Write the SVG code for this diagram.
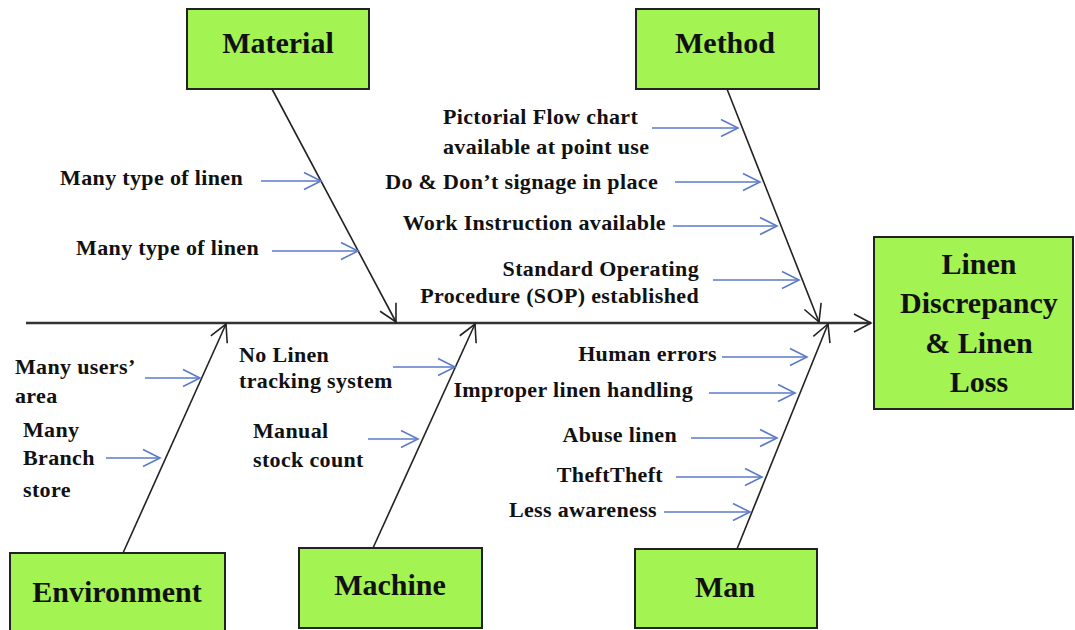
<svg xmlns="http://www.w3.org/2000/svg" width="1075" height="630" viewBox="0 0 1075 630">
  <style>
    .box { fill: #a3f353; stroke: #222; stroke-width: 2; }
    .title { font-family: "Liberation Serif", "Times New Roman", serif; font-weight: bold; font-size: 30px; fill: #111; text-anchor: middle; }
    .lbl { font-family: "Liberation Serif", "Times New Roman", serif; font-weight: bold; font-size: 22px; letter-spacing: 0.35px; fill: #111; }
    .end { text-anchor: end; }
    .bone { stroke: #222; stroke-width: 1.6; fill: none; marker-end: url(#headK); }
    .spine { stroke: #333; stroke-width: 2.6; fill: none; marker-end: url(#headK); }
    .cause { stroke: #5b7bc9; stroke-width: 1.6; fill: none; marker-end: url(#headB); }
  </style>
  <defs>
    <marker id="headK" markerUnits="userSpaceOnUse" markerWidth="20" markerHeight="20" refX="17" refY="9" orient="auto" overflow="visible">
      <path d="M0,0 L17,9 L0,18" fill="none" stroke="#222" stroke-width="1.6"/>
    </marker>
    <marker id="headB" markerUnits="userSpaceOnUse" markerWidth="20" markerHeight="20" refX="17" refY="8.5" orient="auto" overflow="visible">
      <path d="M0,0 L17,8.5 L0,17" fill="none" stroke="#5b7bc9" stroke-width="1.6"/>
    </marker>
  </defs>

  <rect width="1075" height="630" fill="#fff"/>

  <!-- spine, category bones and cause arrows -->
  <g id="connectors">
    <line class="spine" x1="26" y1="323" x2="871" y2="323"/>

    <line class="bone" x1="272" y1="89" x2="396" y2="322"/>
    <line class="bone" x1="727" y1="89" x2="819" y2="322"/>
    <line class="bone" x1="123" y1="553" x2="226" y2="324"/>
    <line class="bone" x1="373" y1="548" x2="475" y2="324"/>
    <line class="bone" x1="737" y1="549" x2="828" y2="324"/>

    <!-- Material causes -->
    <line class="cause" x1="261" y1="181" x2="321" y2="181"/>
    <line class="cause" x1="272" y1="251" x2="358" y2="251"/>
    <!-- Method causes -->
    <line class="cause" x1="652" y1="128" x2="738" y2="128"/>
    <line class="cause" x1="675" y1="182" x2="760" y2="182"/>
    <line class="cause" x1="673" y1="226" x2="777" y2="226"/>
    <line class="cause" x1="713" y1="280" x2="799" y2="280"/>
    <!-- Environment causes -->
    <line class="cause" x1="145" y1="378" x2="200" y2="378"/>
    <line class="cause" x1="106" y1="458" x2="160" y2="458"/>
    <!-- Machine causes -->
    <line class="cause" x1="393" y1="367" x2="455" y2="367"/>
    <line class="cause" x1="368" y1="439" x2="418" y2="439"/>
    <!-- Man causes -->
    <line class="cause" x1="722" y1="357" x2="807" y2="357"/>
    <line class="cause" x1="709" y1="393" x2="795" y2="393"/>
    <line class="cause" x1="691" y1="438" x2="777" y2="438"/>
    <line class="cause" x1="676" y1="477" x2="762" y2="477"/>
    <line class="cause" x1="664" y1="512" x2="750" y2="512"/>
  </g>

  <g id="material">
    <rect class="box" x="187" y="9" width="182" height="80"/>
    <text class="title" x="278" y="53">Material</text>
  </g>
  <g id="material-causes">
    <text class="lbl end" x="243" y="185">Many type of linen</text>
    <text class="lbl end" x="259" y="255">Many type of linen</text>
  </g>

  <g id="method">
    <rect class="box" x="636" y="9" width="183" height="80"/>
    <text class="title" x="725" y="53">Method</text>
  </g>
  <g id="method-causes">
    <text class="lbl" x="443" y="124">Pictorial Flow chart</text>
    <text class="lbl" x="443" y="154">available at point use</text>
    <text class="lbl end" x="658" y="189">Do &amp; Don’t signage in place</text>
    <text class="lbl end" x="666" y="230">Work Instruction available</text>
    <text class="lbl end" x="699" y="276">Standard Operating</text>
    <text class="lbl end" x="699" y="303">Procedure (SOP) established</text>
  </g>

  <g id="effect">
    <rect class="box" x="874" y="237" width="199" height="172"/>
    <text class="title" x="979" y="274">Linen</text>
    <text class="title" x="979" y="313">Discrepancy</text>
    <text class="title" x="979" y="353">&amp; Linen</text>
    <text class="title" x="979" y="392">Loss</text>
  </g>

  <g id="environment">
    <rect class="box" x="10" y="553" width="215" height="85"/>
    <text class="title" x="117" y="602">Environment</text>
  </g>
  <g id="environment-causes">
    <text class="lbl" x="15" y="374">Many users’</text>
    <text class="lbl" x="15" y="403">area</text>
    <text class="lbl" x="23" y="437">Many</text>
    <text class="lbl" x="23" y="465">Branch</text>
    <text class="lbl" x="23" y="497">store</text>
  </g>

  <g id="machine">
    <rect class="box" x="299" y="548" width="183" height="80"/>
    <text class="title" x="390" y="595">Machine</text>
  </g>
  <g id="machine-causes">
    <text class="lbl" x="239" y="362">No Linen</text>
    <text class="lbl" x="239" y="388">tracking system</text>
    <text class="lbl" x="253" y="438">Manual</text>
    <text class="lbl" x="253" y="467">stock count</text>
  </g>

  <g id="man">
    <rect class="box" x="635" y="549" width="182" height="79"/>
    <text class="title" x="725" y="597">Man</text>
  </g>
  <g id="man-causes">
    <text class="lbl end" x="717" y="361">Human errors</text>
    <text class="lbl end" x="693" y="397">Improper linen handling</text>
    <text class="lbl end" x="677" y="442">Abuse linen</text>
    <text class="lbl end" x="663" y="482">TheftTheft</text>
    <text class="lbl end" x="657" y="517">Less awareness</text>
  </g>
</svg>
